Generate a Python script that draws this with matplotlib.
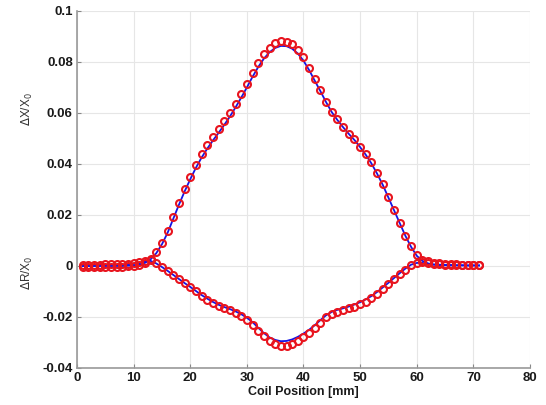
import numpy as np
import matplotlib
matplotlib.use("Agg")
import matplotlib.pyplot as plt

plt.rcParams["font.family"] = ["Liberation Sans", "DejaVu Sans"]

# coil position [mm]
position = np.arange(1, 72)

# measured (red circles)
dx_meas = [
    -0.0005, -0.0005, -0.0005, -0.0005, -0.0005, -0.0004, -0.0004, -0.0003, -0.0002, 0.0000,
    0.0003, 0.0010, 0.0028, 0.0055, 0.0090, 0.0137, 0.0193, 0.0247, 0.0300, 0.0350,
    0.0396, 0.0439, 0.0475, 0.0507, 0.0538, 0.0568, 0.0600, 0.0635, 0.0673, 0.0714,
    0.0758, 0.0797, 0.0831, 0.0856, 0.0873, 0.0882, 0.0880, 0.0869, 0.0847, 0.0818,
    0.0778, 0.0732, 0.0690, 0.0644, 0.0605, 0.0575, 0.0544, 0.0518, 0.0496, 0.0468,
    0.0438, 0.0407, 0.0366, 0.0322, 0.0269, 0.0220, 0.0170, 0.0118, 0.0078, 0.0043,
    0.0025, 0.0018, 0.0013, 0.0010, 0.0008, 0.0007, 0.0006, 0.0005, 0.0005, 0.0005,
    0.0005,
]
dr_meas = [
    0.0005, 0.0005, 0.0005, 0.0005, 0.0006, 0.0006, 0.0007, 0.0008, 0.0009, 0.0011,
    0.0014, 0.0020, 0.0024, 0.0012, -0.0003, -0.0018, -0.0035, -0.0052, -0.0068, -0.0084,
    -0.0100, -0.0117, -0.0132, -0.0145, -0.0156, -0.0166, -0.0174, -0.0184, -0.0196, -0.0212,
    -0.0232, -0.0255, -0.0276, -0.0295, -0.0306, -0.0313, -0.0312, -0.0306, -0.0294, -0.0280,
    -0.0264, -0.0244, -0.0222, -0.0202, -0.0188, -0.0179, -0.0173, -0.0166, -0.0160, -0.0150,
    -0.0140, -0.0127, -0.0111, -0.0091, -0.0072, -0.0052, -0.0033, -0.0014, 0.0004, 0.0013,
    0.0016, 0.0012, 0.0009, 0.0006, 0.0004, 0.0004, 0.0003, 0.0003, 0.0003, 0.0003,
    0.0003,
]

# simulated (blue line)
dx_sim = [
    0.0000, 0.0000, 0.0000, 0.0000, 0.0000, 0.0000, 0.0000, 0.0000, 0.0001, 0.0002,
    0.0005, 0.0012, 0.0026, 0.0050, 0.0085, 0.0130, 0.0185, 0.0240, 0.0292, 0.0340,
    0.0385, 0.0425, 0.0460, 0.0492, 0.0522, 0.0553, 0.0586, 0.0622, 0.0660, 0.0700,
    0.0742, 0.0780, 0.0813, 0.0838, 0.0855, 0.0863, 0.0862, 0.0852, 0.0833, 0.0805,
    0.0768, 0.0726, 0.0685, 0.0642, 0.0603, 0.0572, 0.0544, 0.0518, 0.0494, 0.0466,
    0.0436, 0.0402, 0.0362, 0.0318, 0.0268, 0.0218, 0.0168, 0.0118, 0.0075, 0.0040,
    0.0020, 0.0010, 0.0006, 0.0005, 0.0004, 0.0004, 0.0003, 0.0003, 0.0002, 0.0002,
    0.0002,
]
dr_sim = [
    0.0000, 0.0000, 0.0001, 0.0001, 0.0002, 0.0002, 0.0003, 0.0004, 0.0006, 0.0008,
    0.0011, 0.0017, 0.0020, 0.0010, -0.0004, -0.0019, -0.0035, -0.0051, -0.0067, -0.0082,
    -0.0098, -0.0114, -0.0128, -0.0141, -0.0152, -0.0161, -0.0169, -0.0178, -0.0189, -0.0203,
    -0.0220, -0.0242, -0.0263, -0.0280, -0.0290, -0.0295, -0.0294, -0.0288, -0.0278, -0.0265,
    -0.0250, -0.0232, -0.0212, -0.0193, -0.0180, -0.0172, -0.0166, -0.0159, -0.0151, -0.0142,
    -0.0131, -0.0118, -0.0102, -0.0084, -0.0066, -0.0047, -0.0028, -0.0010, 0.0005, 0.0012,
    0.0012, 0.0008, 0.0005, 0.0003, 0.0003, 0.0002, 0.0002, 0.0002, 0.0002, 0.0002,
    0.0002,
]

x_ticks = np.arange(0, 81, 10)
y_ticks = [-0.04, -0.02, 0, 0.02, 0.04, 0.06, 0.08, 0.1]
y_tick_labels = ["-0.04", "-0.02", "0", "0.02", "0.04", "0.06", "0.08", "0.1"]


def main() -> None:
    fig = plt.figure(figsize=(5.46, 4.05), dpi=100)
    ax = fig.add_axes([0.141, 0.0914, 0.8297, 0.8815])

    ax.plot(position, dx_sim, color="#1414e6", linewidth=1.3, zorder=3)
    ax.plot(position, dr_sim, color="#1414e6", linewidth=1.3, zorder=3)
    marker_style = dict(linestyle="none", marker="o", markersize=5.0,
                        markerfacecolor="none", markeredgecolor="#e8141e",
                        markeredgewidth=1.5, zorder=4)
    ax.plot(position, dx_meas, **marker_style)
    ax.plot(position, dr_meas, **marker_style)

    ax.set_xlim(0, 80)
    ax.set_ylim(-0.04, 0.1)
    ax.set_xticks(x_ticks)
    ax.set_yticks(y_ticks)
    ax.set_yticklabels(y_tick_labels)
    ax.tick_params(direction="in", length=3, width=0.8, color="#888888",
                   labelsize=9.5, pad=3)
    for lbl in ax.get_xticklabels() + ax.get_yticklabels():
        lbl.set_fontweight("bold")
        lbl.set_color("#1a1a1a")

    ax.grid(True, color="#e6e6e6", linewidth=0.8)
    ax.set_axisbelow(True)
    for side in ("top", "right"):
        ax.spines[side].set_visible(False)
    for side in ("left", "bottom"):
        ax.spines[side].set_color("#999999")
        ax.spines[side].set_linewidth(1.2)

    ax.set_xlabel("Coil Position [mm]", fontsize=9, fontweight="bold",
                  color="#1a1a1a", labelpad=1)
    fig.text(27 / 546, 1 - 109 / 405, r"$\Delta$X/X$_0$", rotation=90,
             ha="center", va="center", fontsize=8.5, color="#333333")
    fig.text(27 / 546, 1 - 273 / 405, r"$\Delta$R/X$_0$", rotation=90,
             ha="center", va="center", fontsize=8.5, color="#333333")

    fig.savefig("out.png", dpi=100)


if __name__ == "__main__":
    main()
